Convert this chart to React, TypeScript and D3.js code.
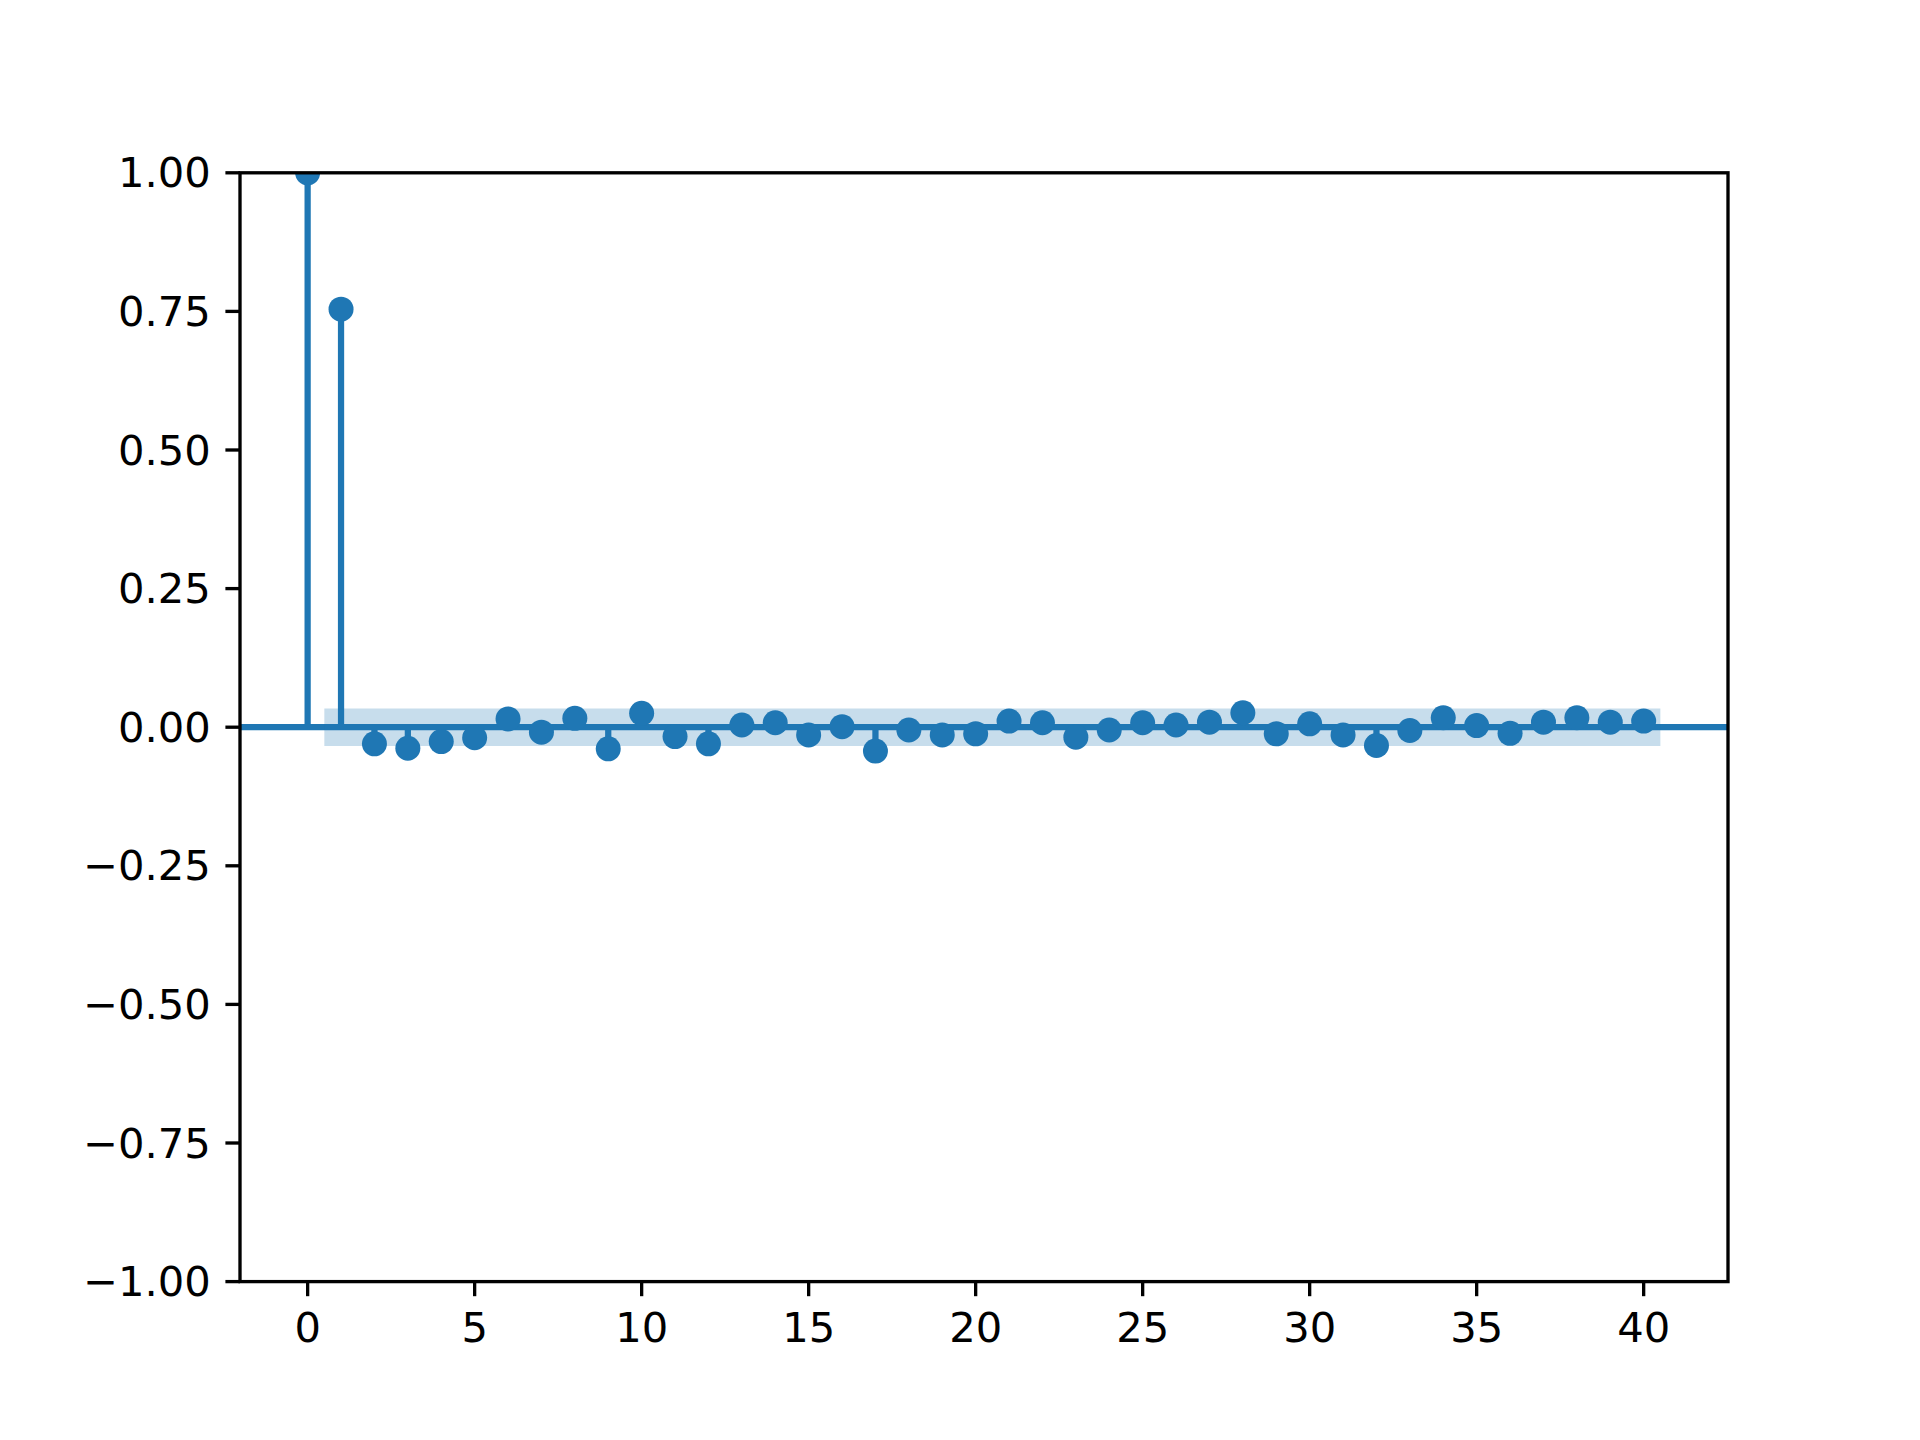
import React from "react";
import * as d3 from "d3";

const lags: number[] = Array.from({ length: 41 }, (_, i) => i);
const pacfValues: number[] = [
  1.0, 0.754, -0.030, -0.038, -0.026, -0.019, 0.015, -0.009, 0.016, -0.039,
  0.025, -0.017, -0.030, 0.004, 0.008, -0.014, 0.001, -0.043, -0.005, -0.014,
  -0.012, 0.011, 0.008, -0.018, -0.005, 0.008, 0.004, 0.009, 0.026, -0.012,
  0.006, -0.014, -0.033, -0.006, 0.017, 0.003, -0.011, 0.009, 0.017, 0.009,
  0.011,
];
const confHalfWidth = 0.0337;
const yTicks: number[] = [-1, -0.75, -0.5, -0.25, 0, 0.25, 0.5, 0.75, 1];
const xTicks: number[] = [0, 5, 10, 15, 20, 25, 30, 35, 40];

const W = 1920;
const H = 1440;
const L = 240, R = 1728, T = 172.8, B = 1281.6;
const blue = "#1f77b4";
const lw = 6.25;
const spineW = 3.33;
const tickLen = 14.6;
const fontSize = 41.67;

const fmtY = (v: number) => {
  const s = Math.abs(v).toFixed(2);
  return v < 0 ? "\u2212" + s : s;
};

export default function App() {
  const x = d3.scaleLinear().domain([-2.025, 42.525]).range([L, R]);
  const y = d3.scaleLinear().domain([-1, 1]).range([B, T]);
  const area = d3
    .area<number>()
    .x((d) => x(d))
    .y0(y(-confHalfWidth))
    .y1(y(confHalfWidth));
  const bandX = [0.5, 40.5];

  return (
    <svg width={W} height={H} style={{ display: "block", position: "absolute", left: 0, top: 0 }}>
      <rect x={0} y={0} width={W} height={H} fill="white" />
      <defs>
        <clipPath id="axclip">
          <rect x={L} y={T} width={R - L} height={B - T} />
        </clipPath>
      </defs>
      <g clipPath="url(#axclip)">
        {lags.map((l, i) => (
          <line key={"s" + l} x1={x(l)} x2={x(l)} y1={y(0)} y2={y(pacfValues[i])} stroke={blue} strokeWidth={lw} />
        ))}
        <line x1={L} x2={R} y1={y(0)} y2={y(0)} stroke={blue} strokeWidth={lw} />
        {lags.map((l, i) => (
          <circle key={"m" + l} cx={x(l)} cy={y(pacfValues[i])} r={12.5} fill={blue} />
        ))}
        <path d={area(bandX) || ""} fill={blue} fillOpacity={0.25} />
      </g>
      <rect x={L} y={T} width={R - L} height={B - T} fill="none" stroke="black" strokeWidth={spineW} />
      {yTicks.map((t) => (
        <g key={"y" + t}>
          <line x1={L - tickLen} x2={L} y1={y(t)} y2={y(t)} stroke="black" strokeWidth={spineW} />
          <text x={L - tickLen - 14.6} y={y(t)} dy="0.35em" textAnchor="end" fontFamily="DejaVu Sans" fontSize={fontSize} fill="black">
            {fmtY(t)}
          </text>
        </g>
      ))}
      {xTicks.map((t) => (
        <g key={"x" + t}>
          <line x1={x(t)} x2={x(t)} y1={B} y2={B + tickLen} stroke="black" strokeWidth={spineW} />
          <text x={x(t)} y={B + tickLen + 14.6} dy="0.76em" textAnchor="middle" fontFamily="DejaVu Sans" fontSize={fontSize} fill="black">
            {t}
          </text>
        </g>
      ))}
    </svg>
  );
}
